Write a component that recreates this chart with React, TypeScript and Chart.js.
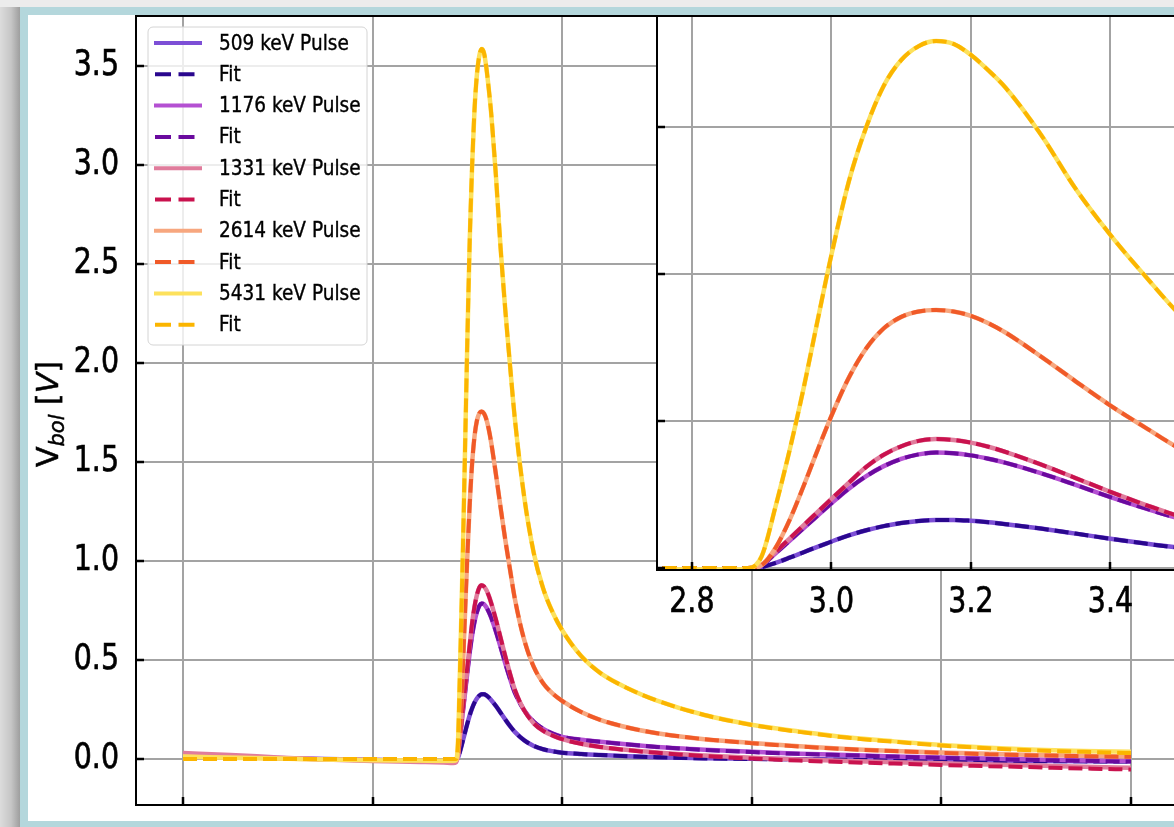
import React, { useEffect, useRef } from 'react';
import { Chart, registerables } from 'chart.js';

Chart.register(...registerables);

// ---------------- data ----------------
const TIME = [0, 0.5, 1, 1.5, 2, 2.5, 2.75, 2.85, 2.88,
  2.9, 2.92, 2.94, 2.96, 2.98, 3.0,
  3.025, 3.05, 3.075, 3.1, 3.125, 3.15, 3.175, 3.2, 3.225, 3.25,
  3.3, 3.35, 3.4, 3.45, 3.5,
  3.6, 3.7, 3.8, 3.9, 4.0,
  4.2, 4.4, 4.7, 5.0, 5.5,
  6.0, 6.5, 7.0, 7.5, 8.0,
  8.5, 9.0, 9.5, 10.0];

const ENERGIES = ['509', '1176', '1331', '2614', '5431'];

const PULSE_509 = [0.015, 0.01, 0.004, 0.0, -0.004, -0.008, -0.01, -0.01, -0.008,
  0.006, 0.035, 0.07, 0.107, 0.144, 0.18,
  0.222, 0.257, 0.285, 0.306, 0.32, 0.327, 0.327, 0.321, 0.311, 0.298,
  0.268, 0.234, 0.199, 0.166, 0.137,
  0.094, 0.066, 0.049, 0.039, 0.032,
  0.025, 0.02, 0.014, 0.009, 0.004,
  0.001, -0.001, -0.003, -0.005, -0.007,
  -0.009, -0.01, -0.011, -0.012];
const FIT_509 = [0, 0, 0, 0, 0, 0, 0, 0, 0,
  0.006, 0.035, 0.07, 0.107, 0.144, 0.18,
  0.222, 0.257, 0.285, 0.306, 0.32, 0.327, 0.327, 0.321, 0.311, 0.298,
  0.268, 0.234, 0.199, 0.166, 0.137,
  0.094, 0.066, 0.049, 0.039, 0.032,
  0.025, 0.02, 0.014, 0.009, 0.003,
  0.0, -0.002, -0.004, -0.006, -0.008,
  -0.01, -0.011, -0.012, -0.013];

const PULSE_1176 = [0.02, 0.012, 0.005, -0.001, -0.006, -0.01, -0.012, -0.012, -0.01,
  0.02, 0.10, 0.185, 0.27, 0.355, 0.44,
  0.54, 0.625, 0.693, 0.742, 0.773, 0.785, 0.781, 0.766, 0.743, 0.715,
  0.645, 0.565, 0.482, 0.405, 0.335,
  0.245, 0.188, 0.152, 0.128, 0.112,
  0.097, 0.087, 0.073, 0.061, 0.047,
  0.036, 0.027, 0.02, 0.013, 0.007,
  0.002, -0.003, -0.007, -0.01];
const FIT_1176 = [0, 0, 0, 0, 0, 0, 0, 0, 0,
  0.02, 0.10, 0.185, 0.27, 0.355, 0.44,
  0.54, 0.625, 0.693, 0.742, 0.773, 0.785, 0.781, 0.766, 0.743, 0.715,
  0.645, 0.565, 0.482, 0.405, 0.335,
  0.245, 0.188, 0.152, 0.128, 0.112,
  0.097, 0.087, 0.073, 0.061, 0.046,
  0.035, 0.026, 0.019, 0.012, 0.006,
  0.0, -0.005, -0.009, -0.013];

const PULSE_1331 = [0.03, 0.02, 0.008, -0.003, -0.01, -0.015, -0.018, -0.02, -0.016,
  0.02, 0.11, 0.20, 0.29, 0.38, 0.47,
  0.58, 0.688, 0.77, 0.828, 0.865, 0.877, 0.871, 0.853, 0.825, 0.789,
  0.705, 0.612, 0.518, 0.43, 0.35,
  0.245, 0.18, 0.142, 0.118, 0.10,
  0.077, 0.061, 0.045, 0.033, 0.018,
  0.006, -0.003, -0.01, -0.016, -0.022,
  -0.028, -0.033, -0.039, -0.044];
const FIT_1331 = [0, 0, 0, 0, 0, 0, 0, 0, 0,
  0.02, 0.11, 0.20, 0.29, 0.38, 0.47,
  0.58, 0.688, 0.77, 0.828, 0.865, 0.877, 0.871, 0.853, 0.825, 0.789,
  0.705, 0.612, 0.518, 0.43, 0.35,
  0.245, 0.18, 0.142, 0.118, 0.10,
  0.077, 0.061, 0.044, 0.031, 0.015,
  0.002, -0.008, -0.016, -0.023, -0.03,
  -0.036, -0.042, -0.048, -0.053];

const PULSE_2614 = [0.012, 0.008, 0.003, -0.002, -0.005, -0.008, -0.01, -0.01, -0.007,
  0.02, 0.138, 0.326, 0.556, 0.80, 1.035,
  1.295, 1.495, 1.63, 1.708, 1.745, 1.755, 1.745, 1.715, 1.665, 1.60,
  1.44, 1.27, 1.105, 0.955, 0.81,
  0.60, 0.465, 0.382, 0.33, 0.293,
  0.237, 0.198, 0.158, 0.13, 0.10,
  0.081, 0.064, 0.051, 0.041, 0.033,
  0.026, 0.02, 0.016, 0.013];
const FIT_2614 = [0, 0, 0, 0, 0, 0, 0, 0, 0,
  0.02, 0.138, 0.326, 0.556, 0.80, 1.035,
  1.295, 1.495, 1.63, 1.708, 1.745, 1.755, 1.745, 1.715, 1.665, 1.60,
  1.44, 1.27, 1.105, 0.955, 0.81,
  0.60, 0.465, 0.382, 0.33, 0.293,
  0.237, 0.198, 0.158, 0.13, 0.10,
  0.08, 0.063, 0.05, 0.04, 0.031,
  0.024, 0.018, 0.014, 0.011];

const PULSE_5431 = [0.012, 0.006, 0.002, -0.003, -0.006, -0.008, -0.009, -0.009, -0.006,
  0.08, 0.42, 0.80, 1.22, 1.68, 2.13,
  2.63, 3.0, 3.28, 3.455, 3.55, 3.585, 3.565, 3.49, 3.385, 3.265,
  2.95, 2.58, 2.265, 1.985, 1.72,
  1.32, 1.04, 0.86, 0.74, 0.65,
  0.52, 0.435, 0.355, 0.295, 0.222,
  0.173, 0.139, 0.11, 0.089, 0.071,
  0.057, 0.047, 0.041, 0.036];
const FIT_5431 = [0, 0, 0, 0, 0, 0, 0, 0, 0,
  0.08, 0.42, 0.80, 1.22, 1.68, 2.13,
  2.63, 3.0, 3.28, 3.455, 3.55, 3.585, 3.565, 3.49, 3.385, 3.265,
  2.95, 2.58, 2.265, 1.985, 1.72,
  1.32, 1.04, 0.86, 0.74, 0.65,
  0.52, 0.435, 0.355, 0.295, 0.222,
  0.172, 0.137, 0.108, 0.087, 0.068,
  0.054, 0.043, 0.036, 0.03];

const PULSE_COLORS = ['#7d4fd6', '#b450d2', '#e07c9c', '#f7a77f', '#fde15c'];
const FIT_COLORS = ['#2a078e', '#6a0a9e', '#c9124e', '#f05a28', '#fbb500'];

const MAIN_X_TICKS = [0, 2, 4, 6, 8, 10];
const MAIN_Y_TICKS = [0, 0.5, 1, 1.5, 2, 2.5, 3, 3.5];
const INSET_X_TICKS = [2.8, 3.0, 3.2, 3.4];
const INSET_Y_TICKS = [0, 1, 2, 3];

// ---------------- style ----------------
const FONT = "'DejaVu Sans', sans-serif";
const W = 1200;
const H = 827;
const GRID = '#a3a3a3';
const BLUE = '#b4d7dc';
const DASH = [14, 6];
const TICK_LEN = 8;
const NARROW = 0.79;

function buildDatasets() {
  const pulses = [PULSE_509, PULSE_1176, PULSE_1331, PULSE_2614, PULSE_5431];
  const fits = [FIT_509, FIT_1176, FIT_1331, FIT_2614, FIT_5431];
  const series: any[] = [];
  ENERGIES.forEach((e, i) => {
    series.push({ label: `${e} keV Pulse`, values: pulses[i], color: PULSE_COLORS[i], dashed: false });
    series.push({ label: 'Fit', values: fits[i], color: FIT_COLORS[i], dashed: true });
  });
  return series.map((s, i) => ({
    label: s.label,
    data: TIME.map((t, k) => ({ x: t, y: s.values[k] })),
    borderColor: s.color,
    backgroundColor: s.color,
    borderWidth: s.dashed ? 4 : 4.5,
    borderDash: s.dashed ? DASH : [],
    pointRadius: 0,
    fill: false,
    cubicInterpolationMode: 'monotone',
    order: series.length - 1 - i,
  }));
}

// narrow, slightly heavier text (the reference uses a condensed-looking face)
function narrowText(ctx: any, text: string, x: number, y: number, align: string, sx: number, weight: number) {
  ctx.save();
  ctx.translate(x, y);
  ctx.scale(sx, 1);
  ctx.textAlign = align;
  ctx.fillText(text, 0, 0);
  if (weight > 0) {
    ctx.lineWidth = weight;
    ctx.strokeStyle = ctx.fillStyle;
    ctx.strokeText(text, 0, 0);
  }
  ctx.restore();
}

function makeDeco(fillWhite: boolean, labelAxis: 'x' | 'y') {
  return {
    id: 'deco',
    beforeDraw(chart: any) {
      if (!fillWhite) return;
      const { ctx, chartArea: a } = chart;
      ctx.save();
      ctx.fillStyle = '#ffffff';
      ctx.fillRect(a.left, a.top, a.right - a.left, a.bottom - a.top);
      ctx.restore();
    },
    afterDraw(chart: any) {
      const { ctx, chartArea: a, scales } = chart;
      ctx.save();
      ctx.strokeStyle = '#000';
      ctx.lineWidth = 2.5;
      ctx.beginPath();
      for (const t of scales.x.ticks) {
        const p = Math.round(scales.x.getPixelForValue(t.value));
        ctx.moveTo(p, a.bottom);
        ctx.lineTo(p, a.bottom - TICK_LEN);
      }
      for (const t of scales.y.ticks) {
        const p = Math.round(scales.y.getPixelForValue(t.value));
        ctx.moveTo(a.left, p);
        ctx.lineTo(a.left + TICK_LEN, p);
      }
      ctx.stroke();
      ctx.lineWidth = 2;
      ctx.strokeRect(a.left, a.top, a.right - a.left, a.bottom - a.top);

      // tick labels
      ctx.fillStyle = '#000';
      ctx.font = `36px ${FONT}`;
      ctx.textBaseline = 'middle';
      const scale = scales[labelAxis];
      for (const t of scale.ticks) {
        const label = Number(t.value).toFixed(1);
        const p = scale.getPixelForValue(t.value);
        if (labelAxis === 'y') narrowText(ctx, label, a.left - 17, p, 'right', NARROW, 0.7);
        else narrowText(ctx, label, p, a.bottom + 32.5, 'center', NARROW, 0.7);
      }
      ctx.restore();
    },
  };
}

const legendPlugin = {
  id: 'customLegend',
  afterDraw(chart: any) {
    const ctx = chart.ctx;
    const bx = 148, by = 27, bw = 219, bh = 318, r = 5;
    ctx.save();
    ctx.beginPath();
    ctx.moveTo(bx + r, by);
    ctx.arcTo(bx + bw, by, bx + bw, by + bh, r);
    ctx.arcTo(bx + bw, by + bh, bx, by + bh, r);
    ctx.arcTo(bx, by + bh, bx, by, r);
    ctx.arcTo(bx, by, bx + bw, by, r);
    ctx.closePath();
    ctx.fillStyle = 'rgba(255,255,255,0.8)';
    ctx.fill();
    ctx.strokeStyle = '#d4d4d4';
    ctx.lineWidth = 1;
    ctx.stroke();
    ctx.font = `21.5px ${FONT}`;
    ctx.textBaseline = 'middle';
    chart.data.datasets.forEach((ds: any, i: number) => {
      const y = 43 + i * 31.3;
      const dashed = ds.borderDash && ds.borderDash.length > 0;
      ctx.strokeStyle = ds.borderColor;
      ctx.lineWidth = 4;
      ctx.setLineDash(dashed ? [16, 7.5] : []);
      ctx.beginPath();
      if (dashed) { ctx.moveTo(155, y); ctx.lineTo(196, y); }
      else { ctx.moveTo(154, y); ctx.lineTo(202, y); }
      ctx.stroke();
      ctx.setLineDash([]);
      ctx.fillStyle = '#000';
      narrowText(ctx, ds.label, 219, y + 1, 'left', 0.86, 0.4);
    });
    ctx.restore();
  },
};

const yTitlePlugin = {
  id: 'yTitle',
  afterDraw(chart: any) {
    const ctx = chart.ctx;
    const parts = [
      { t: 'V', f: `30px ${FONT}`, dy: 0 },
      { t: 'bol', f: `italic 21px ${FONT}`, dy: 6 },
      { t: ' [', f: `30px ${FONT}`, dy: 0 },
      { t: 'V', f: `italic 30px ${FONT}`, dy: 0 },
      { t: ']', f: `30px ${FONT}`, dy: 0 },
    ];
    ctx.save();
    ctx.translate(58, 414);
    ctx.rotate(-Math.PI / 2);
    ctx.fillStyle = '#000';
    ctx.strokeStyle = '#000';
    ctx.lineWidth = 0.5;
    ctx.textBaseline = 'alphabetic';
    ctx.textAlign = 'left';
    let total = 0;
    const widths = parts.map((p) => { ctx.font = p.f; const w = ctx.measureText(p.t).width; total += w; return w; });
    let u = -total / 2;
    parts.forEach((p, i) => {
      ctx.font = p.f;
      ctx.fillText(p.t, u, p.dy);
      ctx.strokeText(p.t, u, p.dy);
      u += widths[i];
    });
    ctx.restore();
  },
};

function fixedTicks(values: number[]) {
  return (scale: any) => { scale.ticks = values.map((v) => ({ value: v })); };
}

export default function App() {
  const mainRef = useRef<HTMLCanvasElement>(null);
  const insetRef = useRef<HTMLCanvasElement>(null);

  useEffect(() => {
    const main = new Chart(mainRef.current as HTMLCanvasElement, {
      type: 'line',
      data: { datasets: buildDatasets() as any },
      options: {
        animation: false,
        responsive: false,
        devicePixelRatio: 1,
        events: [],
        layout: { padding: { left: 0, top: 16, right: W - 1178.4, bottom: 0 } },
        plugins: { legend: { display: false }, tooltip: { enabled: false }, title: { display: false } },
        scales: {
          x: {
            type: 'linear', min: -0.496, max: 10.5, bounds: 'data',
            afterBuildTicks: fixedTicks(MAIN_X_TICKS),
            afterFit: (s: any) => { s.height = H - 805; s.paddingLeft = 0; s.paddingRight = 0; },
            ticks: { display: false },
            grid: { color: GRID, lineWidth: 2, drawTicks: false },
            border: { display: false },
          },
          y: {
            type: 'linear', min: -0.2323, max: 3.752, bounds: 'data',
            afterBuildTicks: fixedTicks(MAIN_Y_TICKS),
            afterFit: (s: any) => { s.width = 136; s.paddingTop = 0; s.paddingBottom = 0; },
            ticks: { display: false },
            grid: { color: GRID, lineWidth: 2, drawTicks: false },
            border: { display: false },
          },
        },
      } as any,
      plugins: [makeDeco(false, 'y'), legendPlugin, yTitlePlugin] as any,
    });

    const inset = new Chart(insetRef.current as HTMLCanvasElement, {
      type: 'line',
      data: { datasets: buildDatasets() as any },
      options: {
        animation: false,
        responsive: false,
        devicePixelRatio: 1,
        events: [],
        layout: { padding: { left: 0, top: 16, right: W - 1180.25, bottom: 0 } },
        plugins: { legend: { display: false }, tooltip: { enabled: false }, title: { display: false } },
        scales: {
          x: {
            type: 'linear', min: 2.75, max: 3.5, bounds: 'data',
            afterBuildTicks: fixedTicks(INSET_X_TICKS),
            afterFit: (s: any) => { s.height = H - 570; s.paddingLeft = 0; s.paddingRight = 0; },
            ticks: { display: false },
            grid: { color: GRID, lineWidth: 2, drawTicks: false },
            border: { display: false },
          },
          y: {
            type: 'linear', min: -0.0136, max: 3.755, bounds: 'data',
            afterBuildTicks: fixedTicks(INSET_Y_TICKS),
            afterFit: (s: any) => { s.width = 657; s.paddingTop = 0; s.paddingBottom = 0; },
            ticks: { display: false },
            grid: { color: GRID, lineWidth: 2, drawTicks: false },
            border: { display: false },
          },
        },
      } as any,
      plugins: [makeDeco(true, 'x')] as any,
    });

    return () => { main.destroy(); inset.destroy(); };
  }, []);

  const abs = (s: any) => ({ position: 'absolute', ...s } as React.CSSProperties);

  return (
    <div style={{ position: 'fixed', left: 0, top: 0, width: 1174, height: 827, overflow: 'hidden', background: '#ffffff' }}>
      <div style={abs({ left: 0, top: 0, width: 1174, height: 7, background: '#ececec' })} />
      <div style={abs({ left: 0, top: 7, width: 20, height: 820, background: 'linear-gradient(to right, #dcdcdc 0%, #c6c6c6 55%, #9e9e9e 100%)' })} />
      <div style={abs({ left: 20, top: 7, width: 1154, height: 8, background: BLUE })} />
      <div style={abs({ left: 20, top: 7, width: 8, height: 820, background: BLUE })} />
      <div style={abs({ left: 20, top: 821, width: 1154, height: 6, background: BLUE })} />
      <canvas ref={mainRef} width={W} height={H} style={abs({ left: 0, top: 0, width: W, height: H })} />
      <canvas ref={insetRef} width={W} height={H} style={abs({ left: 0, top: 0, width: W, height: H })} />
    </div>
  );
}
